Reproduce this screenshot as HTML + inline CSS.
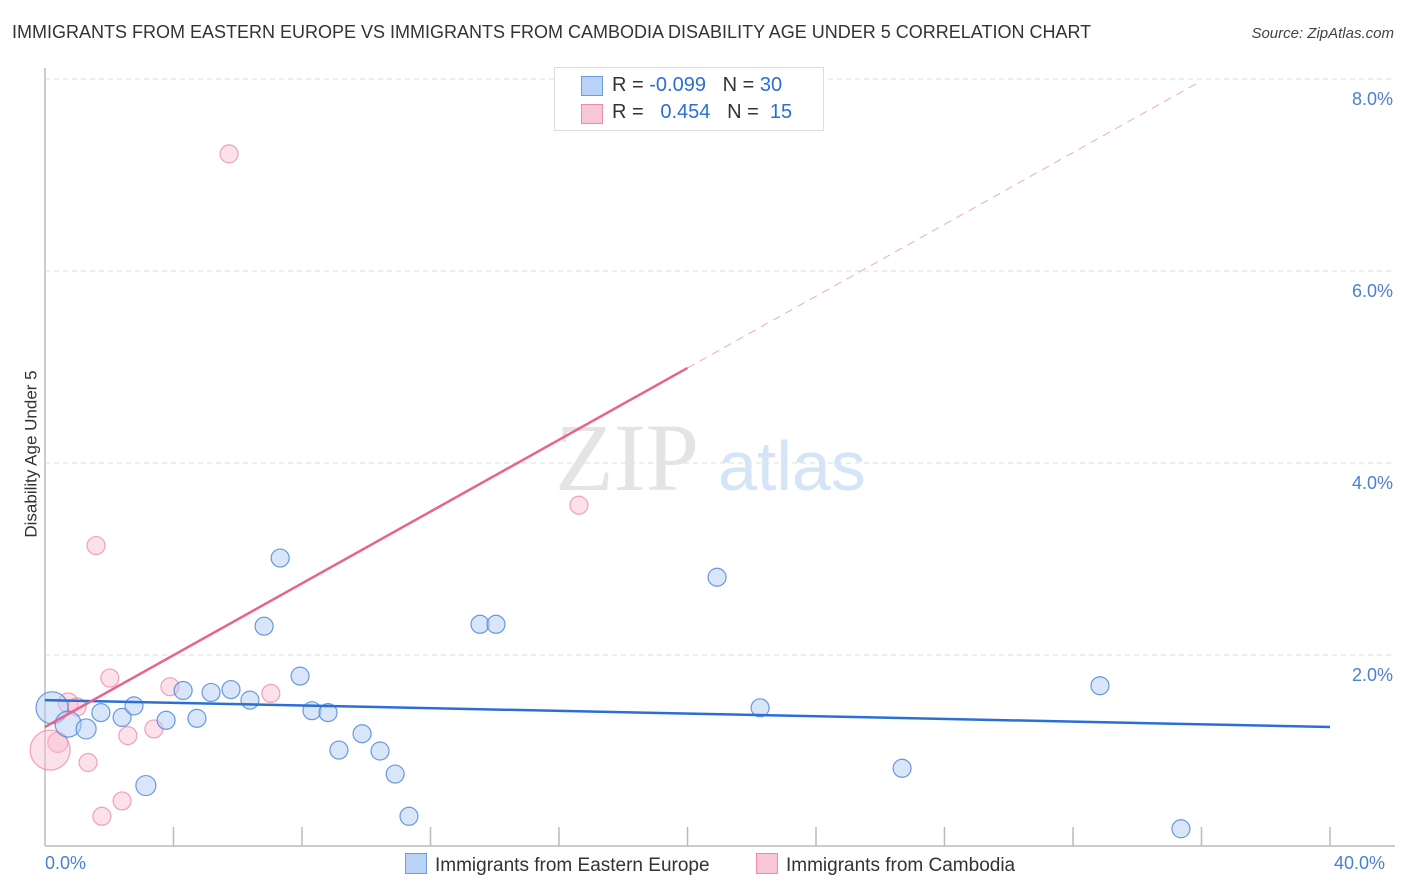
<!DOCTYPE html>
<html><head><meta charset="utf-8"><style>
body{margin:0;background:#fff;font-family:"Liberation Sans",sans-serif;}
#wrap{position:relative;width:1406px;height:892px;overflow:hidden;}
.t{position:absolute;white-space:nowrap;}
</style></head><body>
<div id="wrap">
<div class="t" style="left:12px;top:22px;font-size:18px;color:#333;">IMMIGRANTS FROM EASTERN EUROPE VS IMMIGRANTS FROM CAMBODIA DISABILITY AGE UNDER 5 CORRELATION CHART</div>
<div class="t" style="right:12px;top:25px;font-size:15px;color:#444;font-style:italic;">Source: ZipAtlas.com</div>
<svg id="svg" width="1406" height="892" style="position:absolute;left:0;top:0"></svg>
</div>
<script>
const blueX=[0.22,0.72,1.28,1.74,2.40,2.77,3.14,3.77,4.30,4.73,5.17,5.79,6.38,7.32,6.82,7.94,8.31,8.81,9.15,9.87,10.43,10.90,11.33,13.54,14.04,20.92,22.26,26.68,32.84,35.36];
const blueY=[1.45,1.28,1.23,1.40,1.35,1.47,0.64,1.32,1.63,1.34,1.61,1.64,1.53,3.01,2.30,1.78,1.42,1.40,1.01,1.18,1.00,0.76,0.32,2.32,2.32,2.81,1.45,0.82,1.68,0.19];
const blueR=[16,13,10,9,9,9,10,9,9,9,9,9,9,9,9,9,9,9,9,9,9,9,9,9,9,9,9,9,9,9];
const pinkX=[5.73,1.59,16.62,2.02,3.89,7.03,0.72,1.00,0.40,0.16,2.58,3.39,1.34,2.40,1.77];
const pinkY=[7.22,3.14,3.56,1.76,1.67,1.60,1.50,1.46,1.09,1.01,1.16,1.23,0.88,0.48,0.32];
const pinkR=[9,9,9,9,9,9,10,9,10,20,9,9,9,9,9];
const yTicks=[2,4,6,8];
const blueTrend=[1.53,1.25];
const pinkTrend=[1.25,0.187];
const NS="http://www.w3.org/2000/svg";
const svg=document.getElementById('svg');
const xs=v=>45+v/40*1285, ys=v=>847-v*96;
function mk(tag,a){const e=document.createElementNS(NS,tag);for(const k in a)e.setAttribute(k,a[k]);svg.appendChild(e);return e;}
yTicks.forEach(t=>{
 const g=mk('line',{x1:45,x2:1395,y1:ys(t),y2:ys(t),stroke:'#ddd','stroke-dasharray':'5,4'});
 
 
 const l=mk('text',{x:1393,y:ys(t)+26,'text-anchor':'end','font-size':18,fill:'#4a7fd6','font-family':'Liberation Sans'});
 l.textContent=t.toFixed(1)+'%';
 
 
});
let ax=mk('line',{x1:45,x2:45,y1:68,y2:846,stroke:'#bbb','stroke-width':1.5});


let bx=mk('line',{x1:45,x2:1395,y1:846,y2:846,stroke:'#bbb','stroke-width':1.5});


for(let i=1;i<=10;i++){const tk=mk('line',{x1:xs(i*4),x2:xs(i*4),y1:827,y2:846,stroke:'#bbb','stroke-width':1.5});

}
// watermark
let w1=mk('text',{x:555,y:490,'font-size':96,fill:'#e4e4e4','font-family':'Liberation Serif'});w1.textContent='ZIP';


let w2=mk('text',{x:718,y:490,'font-size':70,fill:'#d6e4f7','font-family':'Liberation Sans'});w2.textContent='atlas';


pinkX.forEach((x,i)=>{const c=mk('circle',{cx:xs(x),cy:ys(pinkY[i]),r:pinkR[i],fill:'rgba(248,187,208,0.45)',stroke:'rgba(230,130,160,0.7)','stroke-width':1.2});

});
blueX.forEach((x,i)=>{const c=mk('circle',{cx:xs(x),cy:ys(blueY[i]),r:blueR[i],fill:'rgba(180,205,245,0.5)',stroke:'rgba(70,130,215,0.8)','stroke-width':1.2});

});
let bt=mk('line',{x1:xs(0),y1:ys(blueTrend[0]),x2:xs(40),y2:ys(blueTrend[1]),stroke:'#2a6fd6','stroke-width':2.5});


const pf=x=>pinkTrend[0]+pinkTrend[1]*x;
let pt=mk('line',{x1:xs(0),y1:ys(pf(0)),x2:xs(20),y2:ys(pf(20)),stroke:'#e8648f','stroke-width':2.5});


let pd=mk('line',{x1:xs(20),y1:ys(pf(20)),x2:xs(35.9),y2:ys(pf(35.9)),stroke:'#eeaac0','stroke-width':1,'stroke-dasharray':'8,6'});


</script>
<div class="t" style="left:-52px;top:444px;font-size:17px;color:#333;transform:rotate(-90deg);">Disability Age Under 5</div>
<div class="t" style="left:45px;top:853px;font-size:18px;color:#4a7fd6;">0.0%</div>
<div class="t" style="left:1334px;top:853px;font-size:18px;color:#4a7fd6;">40.0%</div>
<div style="position:absolute;left:554px;top:67px;width:268px;height:62px;border:1px solid #ddd;background:#fff;font-size:20px;color:#333;">
 <div style="position:absolute;left:26px;top:8px;width:20px;height:18px;background:#b9d2f5;border:1px solid #6b9be0;"></div>
 <div class="t" style="left:57px;top:6px;">R = <span style="color:#2a6fd6">-0.099</span>&nbsp;&nbsp;&nbsp;N = <span style="color:#2a6fd6">30</span></div>
 <div style="position:absolute;left:26px;top:36px;width:20px;height:18px;background:#f9c6d6;border:1px solid #e88eab;"></div>
 <div class="t" style="left:57px;top:33px;">R = &nbsp;&nbsp;<span style="color:#2a6fd6">0.454</span>&nbsp;&nbsp;&nbsp;N = &nbsp;<span style="color:#2a6fd6">15</span></div>
</div>
<div style="position:absolute;left:405px;top:853px;font-size:19px;color:#333;">
 <span style="display:inline-block;width:20px;height:19px;background:#b9d2f5;border:1px solid #6b9be0;vertical-align:-3px;margin-right:8px;"></span>Immigrants from Eastern Europe</div>
<div style="position:absolute;left:756px;top:853px;font-size:19px;color:#333;">
 <span style="display:inline-block;width:20px;height:19px;background:#f9c6d6;border:1px solid #e88eab;vertical-align:-3px;margin-right:8px;"></span>Immigrants from Cambodia</div>
</body></html>
